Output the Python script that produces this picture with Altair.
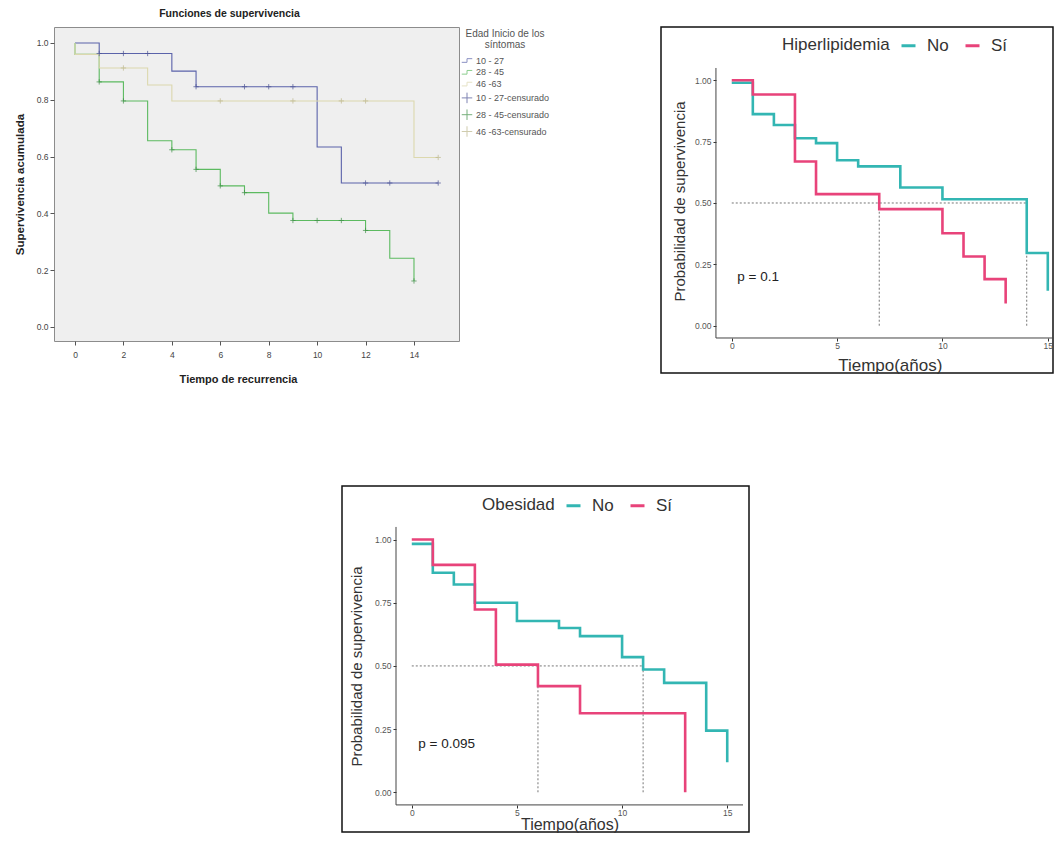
import altair as alt
import pandas as pd

FONT = "Liberation Sans"

# ---------------- Panel 1 (SPSS): Funciones de supervivencia ----------------
grp_names = ["10 - 27", "28 - 45", "46 -63"]
cens_names = ["10 - 27-censurado", "28 - 45-censurado", "46 -63-censurado"]

t_10_27 = [0, 1, 4, 5, 10, 11, 15]
s_10_27 = [1.0, 0.963, 0.901, 0.846, 0.634, 0.507, 0.507]
ct_10_27 = [1, 2, 3, 5, 7, 8, 9, 12, 13, 15]
cs_10_27 = [0.963, 0.963, 0.963, 0.846, 0.846, 0.846, 0.846, 0.507, 0.507, 0.507]

t_28_45 = [0, 0, 1, 2, 3, 4, 5, 6, 7, 8, 9, 12, 13, 14]
s_28_45 = [1.0, 0.96, 0.863, 0.796, 0.656, 0.624, 0.555, 0.497, 0.473, 0.401, 0.375, 0.34, 0.242, 0.162]
ct_28_45 = [1, 2, 4, 5, 6, 7, 9, 10, 11, 12, 14]
cs_28_45 = [0.863, 0.796, 0.624, 0.555, 0.497, 0.473, 0.375, 0.375, 0.375, 0.34, 0.162]

t_46_63 = [0, 0, 1, 3, 4, 14, 15]
s_46_63 = [1.0, 0.96, 0.912, 0.852, 0.796, 0.597, 0.597]
ct_46_63 = [2, 6, 9, 11, 12, 15]
cs_46_63 = [0.912, 0.796, 0.796, 0.796, 0.796, 0.597]

spss_x_ticks = [0, 2, 4, 6, 8, 10, 12, 14]
spss_y_ticks = [0.0, 0.2, 0.4, 0.6, 0.8, 1.0]

# ---------------- Panel 2: Hiperlipidemia ----------------
km_groups = ["No", "Sí"]
hip_no_t = [0, 1, 2, 3, 4, 5, 6, 8, 10, 14, 15]
hip_no_s = [0.99, 0.862, 0.818, 0.764, 0.744, 0.674, 0.649, 0.563, 0.515, 0.296, 0.142]
hip_si_t = [0, 1, 3, 4, 7, 10, 11, 12, 13]
hip_si_s = [1.0, 0.942, 0.669, 0.536, 0.475, 0.377, 0.282, 0.19, 0.091]
hip_median_t = [7, 14]
hip_p = "p = 0.1"

# ---------------- Panel 3: Obesidad ----------------
obe_no_t = [0, 1, 2, 3, 5, 7, 8, 10, 11, 12, 14, 15]
obe_no_s = [0.983, 0.869, 0.822, 0.75, 0.678, 0.65, 0.618, 0.535, 0.486, 0.433, 0.244, 0.119]
obe_si_t = [0, 1, 3, 4, 6, 8, 13]
obe_si_s = [1.0, 0.90, 0.723, 0.505, 0.42, 0.313, 0.0]
obe_median_t = [6, 11]
obe_p = "p = 0.095"

km_x_ticks = [0, 5, 10, 15]
km_y_ticks = [0.0, 0.25, 0.5, 0.75, 1.0]

TEAL = "#33B6B3"
PINK = "#E8437A"

# ======================= Panel 1 =======================
rows = []
for name, ts, ss in zip(grp_names, [t_10_27, t_28_45, t_46_63], [s_10_27, s_28_45, s_46_63]):
    for i, (t, s) in enumerate(zip(ts, ss)):
        rows.append({"serie": name, "t": t, "s": s, "o": i})
lines1_df = pd.DataFrame(rows)
rows = []
for name, ts, ss in zip(cens_names, [ct_10_27, ct_28_45, ct_46_63], [cs_10_27, cs_28_45, cs_46_63]):
    for t, s in zip(ts, ss):
        rows.append({"serie": name, "t": t, "s": s})
cens1_df = pd.DataFrame(rows)

STEP = "M-1,0.35L0,0.35L0,-0.35L1,-0.35"
PLUS = "M-1,0L1,0M0,-1L0,1"
col1 = alt.Scale(domain=grp_names + cens_names,
                 range=["#5b63aa", "#5cba60", "#dcd8ae", "#4b5294", "#3f8f47", "#bdb78c"])
shp1 = alt.Scale(domain=grp_names + cens_names, range=[STEP] * 3 + [PLUS] * 3)
leg1 = alt.Legend(title=["Edad Inicio de los", "síntomas"], orient="none", legendX=407, legendY=2,
                  titleFont=FONT, titleFontSize=10, titleFontWeight="normal", titleColor="#555",
                  titleAlign="center", titleAnchor="middle", titleLineHeight=10.5, titlePadding=5,
                  labelFont=FONT, labelFontSize=9, labelColor="#555", symbolSize=110,
                  symbolStrokeWidth=1, rowPadding=0.8, labelOffset=3, labelLimit=200, titleLimit=200)

xs1 = alt.Scale(domain=[-0.867, 15.859], nice=False, zero=False)
ys1 = alt.Scale(domain=[-0.0493, 1.0563], nice=False, zero=False)
xax1 = alt.Axis(values=spss_x_ticks, title="Tiempo de recurrencia", domain=False, grid=False,
                tickSize=4, tickColor="#555", labelFont=FONT, labelFontSize=8.5, labelColor="#444",
                labelPadding=5, titleFont=FONT, titleFontSize=11, titleFontWeight="bold",
                titleColor="#222", titlePadding=15, titleX=184)
yax1 = alt.Axis(values=spss_y_ticks, format=".1f", title="Supervivencia acumulada", domain=False,
                grid=False, tickSize=4, tickColor="#555", labelFont=FONT, labelFontSize=8.5,
                labelColor="#444", labelPadding=2, titleFont=FONT, titleFontSize=11.5,
                titleFontWeight="bold", titleColor="#222", titlePadding=11)

lines1 = alt.Chart(lines1_df).mark_line(interpolate="step-after", strokeWidth=1.1).encode(
    x=alt.X("t:Q", scale=xs1, axis=xax1),
    y=alt.Y("s:Q", scale=ys1, axis=yax1),
    color=alt.Color("serie:N", scale=col1, legend=leg1),
    order="o:Q",
)
cens1 = alt.Chart(cens1_df).mark_point(filled=False, size=28, strokeWidth=1).encode(
    x=alt.X("t:Q", scale=xs1, axis=xax1),
    y=alt.Y("s:Q", scale=ys1, axis=yax1),
    color=alt.Color("serie:N", scale=col1, legend=leg1),
    shape=alt.Shape("serie:N", scale=shp1, legend=leg1),
)
p1 = alt.layer(lines1, cens1).properties(
    width=405, height=314,
    title=alt.TitleParams("Funciones de supervivencia", font=FONT, fontSize=10.5, fontWeight="bold",
                          color="#222", anchor="middle", frame="group", offset=8, dx=-27),
    view=alt.ViewBackground(fill="#efefef", stroke="#8c8c8c", strokeWidth=1),
)


# ======================= KM (ggplot-style) panels =======================
def km_panel(title, curves, medians, ptext, ppos, W, H, xdom, ydom, xoff, yoff,
             legx, legy, xty, xtsize, ytx, yty, xline_end):
    rows = []
    for g, (ts, ss) in zip(km_groups, curves):
        for i, (t, s) in enumerate(zip(ts, ss)):
            rows.append({"grupo": g, "t": t, "s": s, "o": i})
    df = pd.DataFrame(rows)
    segs = [{"x": 0, "x2": max(medians), "y": 0.5, "y2": 0.5}]
    for m in medians:
        segs.append({"x": m, "x2": m, "y": 0.0, "y2": 0.5})
    med_df = pd.DataFrame(segs)

    xs = alt.Scale(domain=xdom, nice=False, zero=False)
    ys = alt.Scale(domain=ydom, nice=False, zero=False)
    plot_cx = (-0.75 - xdom[0]) / (xdom[1] - xdom[0]) * W
    plot_cx += (16.5 / (xdom[1] - xdom[0]) * W) / 2
    xax = alt.Axis(values=km_x_ticks, title="Tiempo(años)", offset=xoff, domain=False, grid=False,
                   tickSize=3, tickColor="#333", labelFont=FONT, labelFontSize=8.5, labelColor="#555",
                   labelPadding=0, titleFont=FONT, titleFontSize=xtsize, titleFontWeight="normal",
                   titleColor="#333", titleBaseline="middle", titleX=plot_cx, titleY=xty)
    yax = alt.Axis(values=km_y_ticks, format=".2f", title="Probabilidad de supervivencia",
                   offset=yoff, domain=False, grid=False, tickSize=3, tickColor="#333",
                   labelFont=FONT, labelFontSize=8.5, labelColor="#555", labelPadding=2,
                   titleFont=FONT, titleFontSize=15, titleFontWeight="normal", titleColor="#333",
                   titleBaseline="middle", titleX=ytx, titleY=yty)
    leg = alt.Legend(title=title, orient="none", legendX=legx, legendY=legy, direction="horizontal",
                     titleOrient="left", titleFont=FONT, titleFontSize=17, titleFontWeight="normal",
                     titleColor="#333", labelFont=FONT, labelFontSize=17, labelColor="#333",
                     symbolType="stroke", symbolStrokeWidth=3, symbolSize=196, columnPadding=10,
                     titlePadding=10, labelOffset=10)

    med = alt.Chart(med_df).mark_rule(strokeDash=[2, 2], color="#666", strokeWidth=0.9).encode(
        x=alt.X("x:Q", scale=xs, axis=xax), x2="x2:Q",
        y=alt.Y("y:Q", scale=ys, axis=yax), y2="y2:Q",
    )
    lines = alt.Chart(df).mark_line(interpolate="step-after", strokeWidth=2.6).encode(
        x=alt.X("t:Q", scale=xs, axis=xax),
        y=alt.Y("s:Q", scale=ys, axis=yax),
        color=alt.Color("grupo:N", scale=alt.Scale(domain=km_groups, range=[TEAL, PINK]), legend=leg),
        order="o:Q",
    )
    one = pd.DataFrame({"k": [0]})
    xline = alt.Chart(one).mark_rule(color="#444", strokeWidth=1).encode(
        x=alt.XDatum(-0.75, type="quantitative", scale=xs, axis=xax),
        x2=alt.X2Datum(xline_end),
        y=alt.YDatum(-0.05, type="quantitative", scale=ys, axis=yax),
    )
    yline = alt.Chart(one).mark_rule(color="#444", strokeWidth=1).encode(
        x=alt.XDatum(-0.75, type="quantitative", scale=xs, axis=xax),
        y=alt.YDatum(-0.05, type="quantitative", scale=ys, axis=yax),
        y2=alt.Y2Datum(1.05),
    )
    txt = alt.Chart(pd.DataFrame({"x": [ppos[0]], "y": [ppos[1]], "label": [ptext]})).mark_text(
        font=FONT, fontSize=13.5, color="#222").encode(
        x=alt.X("x:Q", scale=xs, axis=xax),
        y=alt.Y("y:Q", scale=ys, axis=yax),
        text="label:N",
    )
    return alt.layer(med, lines, xline, yline, txt).properties(
        width=W, height=H,
        view=alt.ViewBackground(fill="white", stroke="#111", strokeWidth=1.5),
    )


p2 = km_panel("Hiperlipidemia", [(hip_no_t, hip_no_s), (hip_si_t, hip_si_s)], hip_median_t,
              hip_p, (1.25, 0.2), 392, 346, [-3.358, 15.247], [-0.1926, 1.217], -35, -55,
              121, 10, 27, 17, -37, 174, 15.24)
p3 = km_panel("Obesidad", [(obe_no_t, obe_no_s), (obe_si_t, obe_si_s)], obe_median_t,
              obe_p, (1.66, 0.19), 407, 346, [-3.318, 16.035], [-0.1572, 1.212], -27, -54,
              140, 11, 19.5, 16, -40, 180, 15.75)

spacer = alt.Chart(pd.DataFrame({"k": [0]})).mark_point(opacity=0).encode(
    x=alt.value(0), y=alt.value(0)).properties(width=288, height=10)

top = alt.hconcat(p1, p2, spacing=202, bounds="flush").resolve_scale(
    color="independent", shape="independent"
).resolve_legend(color="independent", shape="independent")
bottom = alt.hconcat(spacer, p3, spacing=0, bounds="flush").resolve_scale(
    color="independent"
).resolve_legend(color="independent")

chart = alt.vconcat(top, bottom, spacing=97).resolve_scale(
    color="independent", shape="independent"
).resolve_legend(color="independent", shape="independent").properties(
    padding={"left": 5, "top": 0, "right": 0, "bottom": 0}
).configure_view(stroke="transparent")

chart.save("out.html", embed_options={"renderer": "svg", "actions": False})
